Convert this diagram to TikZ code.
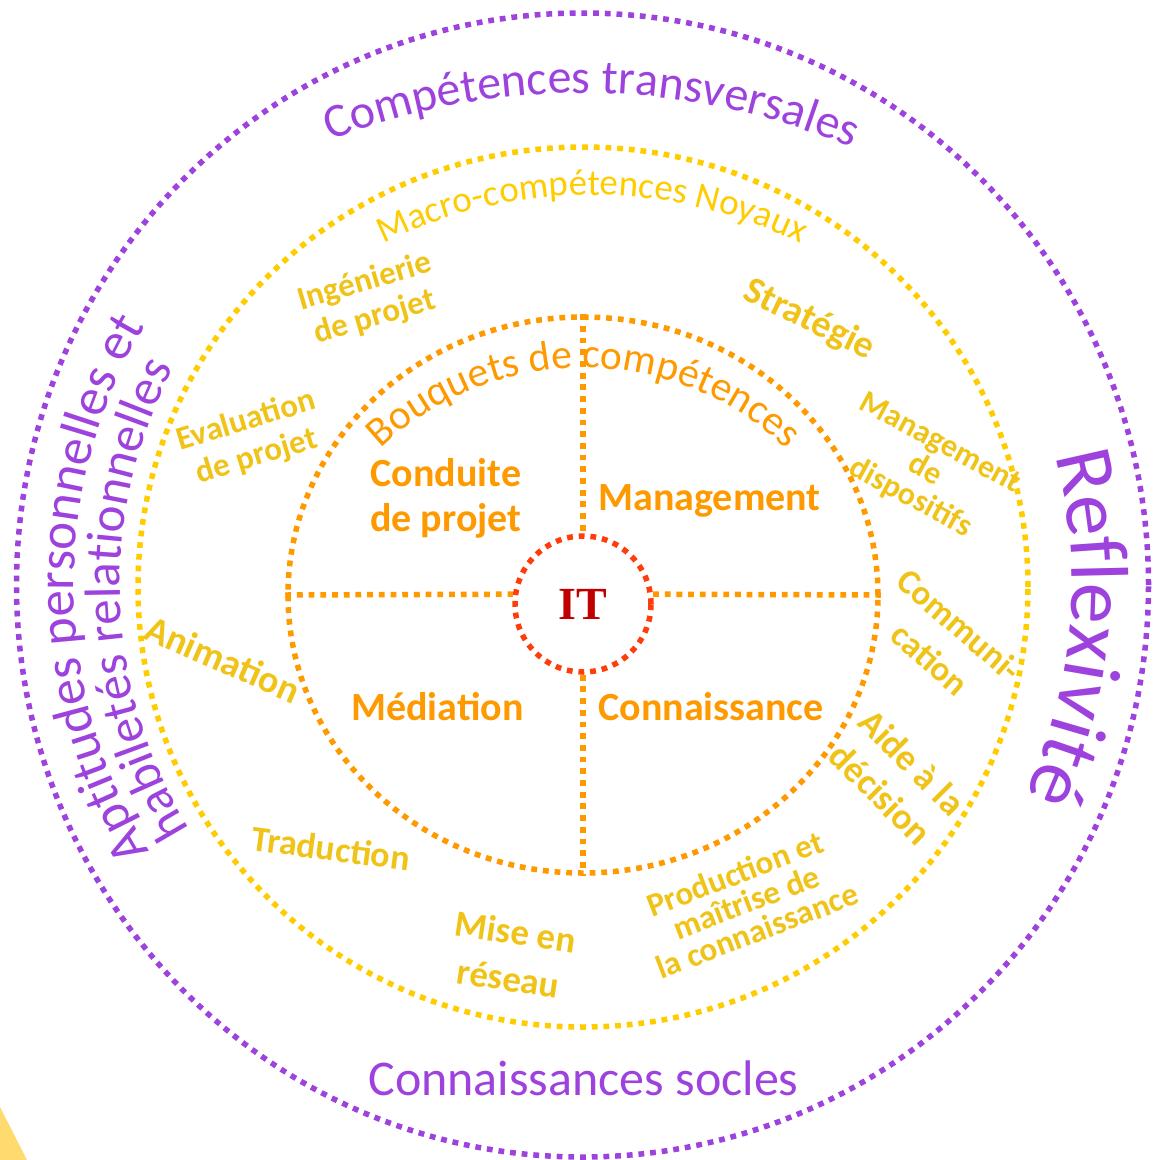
\documentclass[tikz,border=0pt]{standalone}
\usepackage{fontspec}
\setmainfont{Carlito}
\newfontfamily\itfont{Liberation Serif}
\usetikzlibrary{decorations.text,shapes.geometric}

\definecolor{purp}{RGB}{158,66,222}
\definecolor{ylw}{RGB}{255,204,0}
\definecolor{gold}{RGB}{240,195,25}
\definecolor{org}{RGB}{255,153,0}
\definecolor{redd}{RGB}{255,60,10}
\definecolor{darkred}{RGB}{192,0,0}
\definecolor{wedgecol}{RGB}{255,218,110}

\newcommand{\myfs}[2]{\fontsize{#1}{#2}\selectfont}

\tikzset{
  dotline/.style={line width=5.5pt, dash pattern=on 5.8pt off 5.9pt},
  item/.style={text=gold, align=center, inner sep=0pt},
  core/.style={text=org, inner sep=0pt, font=\bfseries\myfs{40}{45}},
}

\begin{document}
\begin{tikzpicture}[x=1pt,y=1pt]
\useasboundingbox (0,0) rectangle (1158,-1160);

% corner wedge
\fill[wedgecol] (0,-1107) -- (27,-1160) -- (0,-1160) -- cycle;

% rings
\node[ellipse, draw=purp, dotline, minimum width=1132pt, minimum height=1144pt, inner sep=0pt] (outer) at (582.5,-585) {};
\node[ellipse, draw=ylw, dotline, minimum width=890pt, minimum height=880pt, inner sep=0pt] (macro) at (583,-587) {};
\node[ellipse, draw=org, dotline, minimum width=590pt, minimum height=556pt, inner sep=0pt] (bq) at (583,-595) {};
\node[circle, draw=redd, dotline, minimum size=136pt, inner sep=0pt, text=darkred,
      font=\itfont\bfseries\myfs{46}{46}] (it) at (583,-604) {IT};

% cross lines
\draw[org, dotline] (bq.north) -- (it.north);
\draw[org, dotline] (it.south) -- (bq.south);
\draw[org, dotline] (bq.west) -- (it.172);
\draw[org, dotline] (it.8) -- (bq.east);

% curved titles
\path[decorate, decoration={text along path, text align=center, text color=purp,
   text={|\myfs{48}{48}|Compétences transversales}}]
   (582,-781) ++(119.2:688) arc[start angle=119.2, end angle=59.2, radius=688];
\path[decorate, decoration={text along path, text align=center, text color=ylw,
   text={|\myfs{37}{37}|Macro-compétences Noyaux}}]
   (592,-665) ++(125:470) arc[start angle=125, end angle=55, radius=470];
\path[decorate, decoration={text along path, text align=center, text color=org,
   text={|\myfs{41.5}{41.5}|Bouquets de compétences}}]
   (584,-663) ++(150:295) arc[start angle=150, end angle=30, radius=295];
\path[decorate, decoration={text along path, text align=center, text color=purp,
   text={|\myfs{82}{82}|Reflexivité}}]
   (582,-585) ++(35:490) arc[start angle=35, end angle=-45, radius=490];
\path[decorate, decoration={text along path, text align=center, text color=purp,
   text={|\myfs{53}{53}|Aptitudes personnelles et}}]
   (582,-585) ++(235.5:508) arc[start angle=235.5, end angle=125.5, radius=508];
\path[decorate, decoration={text along path, text align=center, text color=purp,
   text={|\myfs{51}{51}|habiletés relationnelles}}]
   (582,-585) ++(237:462) arc[start angle=237, end angle=127, radius=462];

% straight purple title
\node[text=purp, inner sep=0pt, anchor=base, font=\myfs{50}{50}] (socles) at (583.5,-1095) {Connaissances socles};

% core quadrants
\node[core, align=center] (conduite) at (446,-498) {Conduite\\de projet};
\node[core, anchor=base] (mgmt) at (709.5,-510) {Management};
\node[core, anchor=base] (mediation) at (437.5,-720) {Médiation};
\node[core, anchor=base] (connaissance) at (711,-720) {Connaissance};

% macro-competence items
\node[item, rotate=16.5, font=\bfseries\myfs{33}{37}] (inge) at (370,-300) {Ingénierie\\de projet};
\node[item, rotate=17, font=\bfseries\myfs{33}{37}] (eval) at (251.5,-439) {Evaluation\\de projet};
\node[item, rotate=-25.8, font=\bfseries\myfs{38}{38}] (strat) at (809,-320) {Stratégie};
\node[item, rotate=-28.5, font=\bfseries\myfs{32}{31}] (mdisp) at (925,-471) {Management\\de\\dispositifs};
\node[item, rotate=-41, font=\bfseries\myfs{35}{45}] (comm) at (945,-642) {Communi-\\cation};
\node[item, rotate=-45, font=\bfseries\myfs{37}{44.5}] (aide) at (896.5,-778) {Aide à la\\décision};
\node[item, rotate=-23.6, font=\bfseries\myfs{38}{38}] (anim) at (223,-659) {Animation};
\node[item, rotate=-7.5, font=\bfseries\myfs{36}{36}] (trad) at (331,-848) {Traduction};
\node[item, rotate=-8.5, font=\bfseries\myfs{37}{47}] (mise) at (512,-955) {Mise en\\réseau};
\node[item, rotate=21, font=\bfseries\myfs{33}{30.5}] (prod) at (746,-902) {Production et\\maîtrise de\\la connaissance};
\end{tikzpicture}
\end{document}
